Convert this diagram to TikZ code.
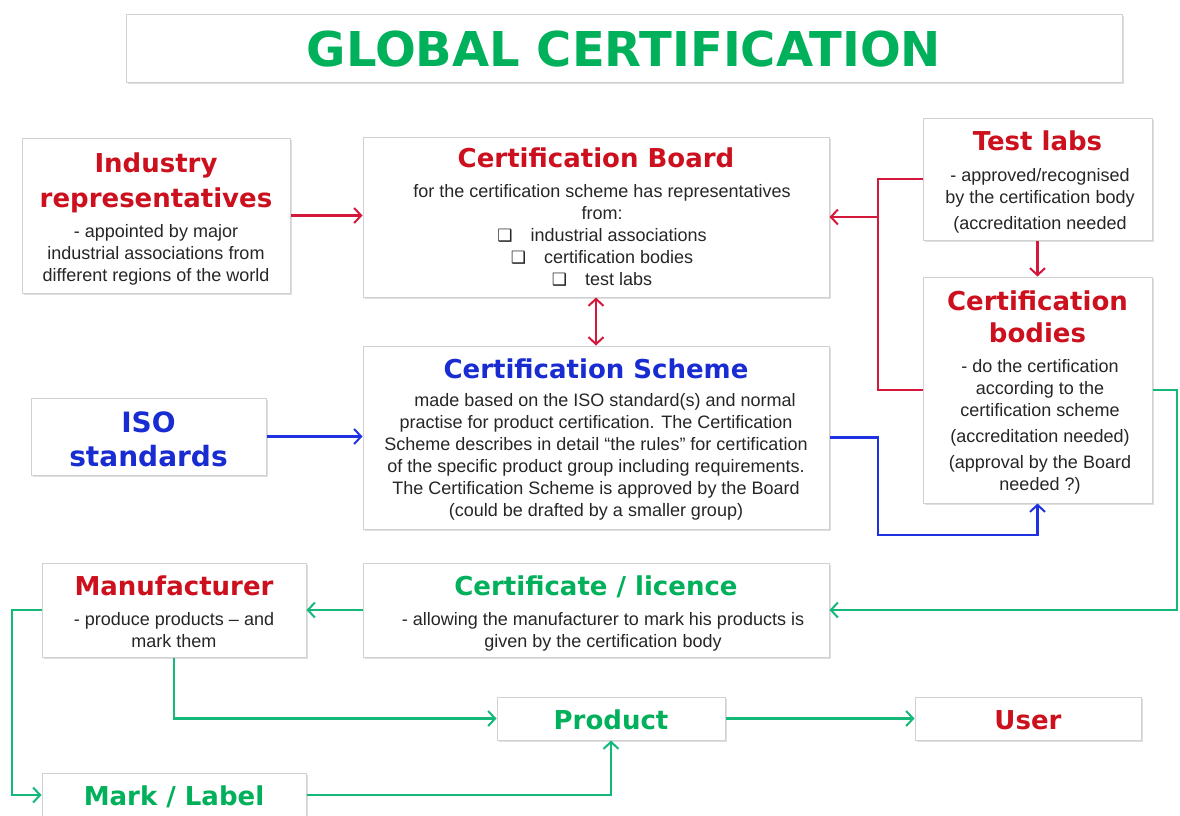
\documentclass[tikz,border=0pt]{standalone}
\usepackage{fontspec}
\setmainfont{Liberation Sans}
\newfontfamily\vfont{DejaVu Sans}
\usetikzlibrary{arrows.meta,shadows}
\definecolor{tred}{RGB}{204,16,30}
\definecolor{tblue}{RGB}{24,44,210}
\definecolor{tgreen}{RGB}{0,176,90}
\definecolor{lred}{RGB}{212,24,60}
\definecolor{lblue}{RGB}{30,50,225}
\definecolor{lgreen}{RGB}{20,184,120}
\tikzset{
  box/.style={draw=black!18, line width=1pt, fill=white,
    drop shadow={shadow xshift=1.5pt,shadow yshift=-1.5pt,opacity=0.35,fill=black!35},
    inner sep=0pt},
  ttl/.style={font=\vfont\bfseries\fontsize{26}{30}\selectfont, anchor=base, inner sep=0pt},
  bdy/.style={font=\fontsize{18}{22}\selectfont, align=center, anchor=north, inner sep=0pt, text=black!85},
  con/.style={line width=2.4pt},
  arr/.style={con, -{Straight Barb[length=7pt,width=15pt,line width=2pt]}},
  darr/.style={con, {Straight Barb[length=7pt,width=15pt,line width=2pt]}-{Straight Barb[length=7pt,width=15pt,line width=2pt]}}
}
\begin{document}
\begin{tikzpicture}[x=1pt,y=-1pt]
\useasboundingbox[fill=white] (0,0) rectangle (1180,815);

% title
\node[box, minimum width=996pt, minimum height=68pt] (tbox) at (624,48) {};
\node[font=\vfont\bfseries\fontsize{48}{50}\selectfont, text=tgreen, anchor=base, inner sep=0pt] (ttext) at (624,66) {GLOBAL CERTIFICATION};

% industry representatives
\node[box, minimum width=268pt, minimum height=155pt] (ind) at (156,215.5) {};
\node[ttl, text=tred] (indt1) at (156,172) {Industry};
\node[ttl, text=tred] (indt2) at (156,207) {representatives};
\node[bdy] (indb) at (156,224) {- appointed by major\\industrial associations from\\different regions of the world};

% certification board
\node[box, minimum width=466pt, minimum height=160pt] (board) at (596,217) {};
\node[ttl, text=tred] (boardt) at (596,167) {Certification Board};
\node[bdy] (boardb) at (602,184) {for the certification scheme has representatives\\from:\\{\vfont\fontsize{17}{17}\selectfont ❑}\quad industrial associations\\{\vfont\fontsize{17}{17}\selectfont ❑}\quad certification bodies\\{\vfont\fontsize{17}{17}\selectfont ❑}\quad test labs};

% test labs
\node[box, minimum width=229pt, minimum height=122pt] (tlabs) at (1037.5,179) {};
\node[ttl, text=tred] (tlabst) at (1037.5,150) {Test labs};
\node[bdy] (tlabsb) at (1040,168) {- approved/recognised\\by the certification body\\[4pt](accreditation needed};

% certification bodies
\node[box, minimum width=229pt, minimum height=226pt] (cbod) at (1037.5,390) {};
\node[ttl, text=tred] (cbodt1) at (1037.5,310) {Certification};
\node[ttl, text=tred] (cbodt2) at (1037.5,342) {bodies};
\node[bdy] (cbodb) at (1040,359) {- do the certification\\according to the\\certification scheme\\[4pt](accreditation needed)\\[4pt](approval by the Board\\needed ?)};

% ISO standards
\node[box, minimum width=235pt, minimum height=77pt] (iso) at (148.5,436.5) {};
\node[ttl, text=tblue, font=\vfont\bfseries\fontsize{28}{30}\selectfont] (isot1) at (148.5,432) {ISO};
\node[ttl, text=tblue, font=\vfont\bfseries\fontsize{28}{30}\selectfont] (isot2) at (148.5,466) {standards};

% certification scheme
\node[box, minimum width=466pt, minimum height=183pt] (scheme) at (596,437.5) {};
\node[ttl, text=tblue] (schemet) at (596,378) {Certification Scheme};
\node[bdy] (schemeb) at (596,393) {\hspace*{1em}made based on the ISO standard(s) and normal\\practise for product certification. The Certification\\Scheme describes in detail “the rules” for certification\\of the specific product group including requirements.\\The Certification Scheme is approved by the Board\\(could be drafted by a smaller group)};

% manufacturer
\node[box, minimum width=264pt, minimum height=94pt] (manu) at (174,610) {};
\node[ttl, text=tred] (manut) at (174,595) {Manufacturer};
\node[bdy] (manub) at (174,612) {- produce products – and\\mark them};

% certificate / licence
\node[box, minimum width=466pt, minimum height=94pt] (cert) at (596,610) {};
\node[ttl, text=tgreen] (certt) at (596,595) {Certificate / licence};
\node[bdy] (certb) at (603,612) {- allowing the manufacturer to mark his products is\\given by the certification body};

% product, user, mark
\node[box, minimum width=228pt, minimum height=43pt] (prod) at (611,718.5) {};
\node[ttl, text=tgreen] (prodt) at (611,729) {Product};
\node[box, minimum width=226pt, minimum height=43pt] (user) at (1028,718.5) {};
\node[ttl, text=tred] (usert) at (1028,729) {User};
\node[box, minimum width=264pt, minimum height=44pt] (mark) at (174,795) {};
\node[ttl, text=tgreen] (markt) at (174,805) {Mark / Label};

% junction coordinates
\coordinate (tj) at (878,0);
\coordinate (bj) at (878,535);
\coordinate (gj) at (1177,610);
\coordinate (mj) at (12,795);

% red connectors
\draw[arr, lred] (ind.east) -- (board.west |- ind.east);
\draw[darr, lred] (board.south) -- (scheme.north);
\draw[con, lred] (tlabs.west) -| (tj |- cbod.west) -- (cbod.west);
\draw[arr, lred] (tj |- board.east) -- (board.east);
\draw[arr, lred] (tlabs.south) -- (cbod.north);

% blue connectors
\draw[arr, lblue] (iso.east) -- (scheme.west |- iso.east);
\draw[arr, lblue] (scheme.east) -| (bj) -| (cbod.south);

% green connectors
\draw[arr, lgreen] (cbod.east) -| (gj) -- (cert.east);
\draw[arr, lgreen] (cert.west) -- (manu.east);
\draw[arr, lgreen] (manu.south) |- (prod.west);
\draw[arr, lgreen] (manu.west) -| (mj) -- (mark.west);
\draw[arr, lgreen] (mark.east) -| (prod.south);
\draw[arr, lgreen] (prod.east) -- (user.west);
\end{tikzpicture}
\end{document}
